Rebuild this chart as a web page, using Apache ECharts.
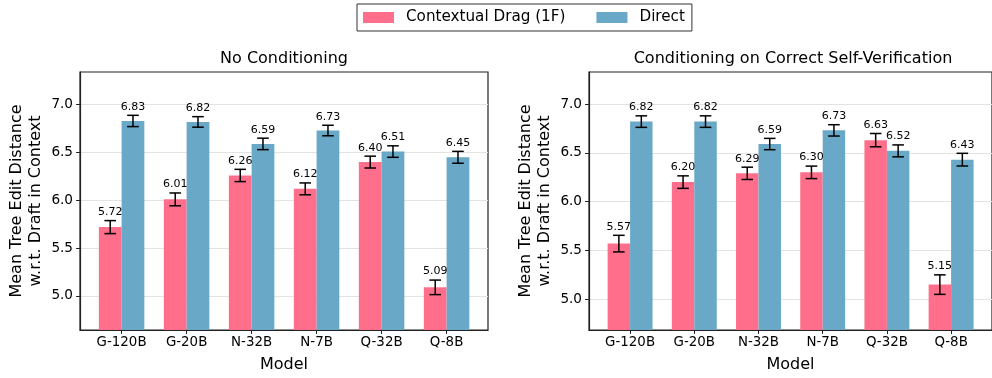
<!DOCTYPE html>
<html>
<head>
<meta charset="utf-8">
<script src="https://cdn.jsdelivr.net/npm/echarts@6/dist/echarts.min.js"></script>
<style>html,body{margin:0;padding:0;background:#fff}#c{width:992px;height:378px}</style>
</head>
<body>
<div id="c"></div>
<script>
const categories = ['G-120B', 'G-20B', 'N-32B', 'N-7B', 'Q-32B', 'Q-8B'];
const seriesNames = ['Contextual Drag (1F)', 'Direct'];
const panelTitles = ['No Conditioning', 'Conditioning on Correct Self-Verification'];

const leftDrag = [5.72, 6.01, 6.26, 6.12, 6.40, 5.09];
const leftDragErr = [0.068, 0.067, 0.064, 0.062, 0.062, 0.076];
const leftDirect = [6.83, 6.82, 6.59, 6.73, 6.51, 6.45];
const leftDirectErr = [0.059, 0.055, 0.060, 0.055, 0.060, 0.062];

const rightDrag = [5.57, 6.20, 6.29, 6.30, 6.63, 5.15];
const rightDragErr = [0.085, 0.064, 0.063, 0.064, 0.068, 0.100];
const rightDirect = [6.82, 6.82, 6.59, 6.73, 6.52, 6.43];
const rightDirectErr = [0.059, 0.059, 0.058, 0.058, 0.061, 0.065];

const yTicks = [5.0, 5.5, 6.0, 6.5, 7.0];
const leftYRange = [4.644, 7.342];
const rightYRange = [4.685, 7.328];
const xRange = [-0.64, 5.637];

const COLORS = ['#FF6F8B', '#69A8C6'];
const FONT = 'DejaVu Sans';
const BAR_W = 0.35;
const CAP = 5.8;

function makeRender(shift, color, base) {
  return function (params, api) {
    const x = api.value(0), v = api.value(1), e = api.value(2);
    const tl = api.coord([x + shift - BAR_W / 2, v]);
    const br = api.coord([x + shift + BAR_W / 2, base]);
    const top = api.coord([x + shift, v + e]);
    const bot = api.coord([x + shift, v - e]);
    const cx = top[0];
    return {
      type: 'group',
      children: [
        { type: 'rect', shape: { x: tl[0], y: tl[1], width: br[0] - tl[0], height: br[1] - tl[1] }, style: { fill: color } },
        { type: 'line', shape: { x1: cx, y1: top[1], x2: cx, y2: bot[1] }, style: { stroke: '#000', lineWidth: 1.5 } },
        { type: 'line', shape: { x1: cx - CAP, y1: top[1], x2: cx + CAP, y2: top[1] }, style: { stroke: '#000', lineWidth: 1.5 } },
        { type: 'line', shape: { x1: cx - CAP, y1: bot[1], x2: cx + CAP, y2: bot[1] }, style: { stroke: '#000', lineWidth: 1.5 } },
        { type: 'text', x: cx, y: top[1] - 3, z2: 10, style: { text: v.toFixed(2), fill: '#000', font: '11px "' + FONT + '"', textAlign: 'center', textVerticalAlign: 'bottom' } }
      ]
    };
  };
}

function toData(vals, errs) { return vals.map((v, i) => [i, v, errs[i]]); }

const grids = [
  { left: 80, top: 72, width: 408, height: 260 },
  { left: 589, top: 72, width: 408, height: 260 }
];

function xAxisFor(gi) {
  return {
    type: 'value', gridIndex: gi, min: xRange[0], max: xRange[1],
    name: 'Model', nameLocation: 'middle', nameGap: 27,
    nameTextStyle: { fontFamily: FONT, fontSize: 16, color: '#000' },
    axisLine: { show: true, onZero: false, lineStyle: { color: '#222', width: 1.2 } },
    axisTick: { show: true, length: 4, customValues: categories.map((c, i) => i), lineStyle: { color: '#222', width: 1 } },
    axisLabel: { customValues: categories.map((c, i) => i), formatter: v => categories[Math.round(v)], fontFamily: FONT, fontSize: 13.4, color: '#000', margin: 6 },
    splitLine: { show: false }
  };
}
function yAxisFor(gi, range) {
  return {
    type: 'value', gridIndex: gi, min: range[0], max: range[1],
    name: 'Mean Tree Edit Distance\nw.r.t. Draft in Context', nameLocation: 'middle', nameGap: 34, nameRotate: 90,
    nameTextStyle: { fontFamily: FONT, fontSize: 16, color: '#000', lineHeight: 19.5 },
    axisLine: { show: true, onZero: false, lineStyle: { color: '#222', width: 1.2 } },
    axisTick: { show: true, length: 4, customValues: yTicks, lineStyle: { color: '#222', width: 1 } },
    axisLabel: { customValues: yTicks, formatter: v => v.toFixed(1), fontFamily: FONT, fontSize: 13.6, color: '#000', margin: 7 },
    splitLine: { show: true, lineStyle: { color: '#e3e3e3', width: 1 } }
  };
}

const panels = [
  { drag: leftDrag, dragErr: leftDragErr, direct: leftDirect, directErr: leftDirectErr, range: leftYRange },
  { drag: rightDrag, dragErr: rightDragErr, direct: rightDirect, directErr: rightDirectErr, range: rightYRange }
];

const series = [];
panels.forEach((p, gi) => {
  series.push({
    type: 'custom', name: seriesNames[0], xAxisIndex: gi, yAxisIndex: gi,
    itemStyle: { color: COLORS[0] }, encode: { x: 0, y: 1 },
    data: toData(p.drag, p.dragErr), renderItem: makeRender(-BAR_W / 2, COLORS[0], p.range[0])
  });
  series.push({
    type: 'custom', name: seriesNames[1], xAxisIndex: gi, yAxisIndex: gi,
    itemStyle: { color: COLORS[1] }, encode: { x: 0, y: 1 },
    data: toData(p.direct, p.directErr), renderItem: makeRender(BAR_W / 2, COLORS[1], p.range[0])
  });
});

const chart = echarts.init(document.getElementById('c'), null, { renderer: 'canvas' });
chart.setOption({
  animation: false,
  backgroundColor: '#fff',
  textStyle: { fontFamily: FONT },
  grid: grids.map(g => Object.assign({ show: true, borderColor: '#222', borderWidth: 1.2, backgroundColor: 'transparent' }, g)),
  xAxis: [xAxisFor(0), xAxisFor(1)],
  yAxis: [yAxisFor(0, leftYRange), yAxisFor(1, rightYRange)],
  legend: {
    left: 357, top: 4, orient: 'horizontal',
    data: seriesNames.map(n => ({ name: n, icon: 'rect' })),
    itemWidth: 31, itemHeight: 11, itemGap: 31,
    padding: [6, 7, 6, 6],
    borderColor: '#333', borderWidth: 1, borderRadius: 0, backgroundColor: '#fff',
    textStyle: { fontFamily: FONT, fontSize: 15.2, color: '#000', padding: [0, 0, 0, 7] },
    selectedMode: false
  },
  graphic: [
    { type: 'text', x: 284, y: 59, style: { text: panelTitles[0], font: '16px "' + FONT + '"', fill: '#000', textAlign: 'center', textVerticalAlign: 'middle' } },
    { type: 'text', x: 793, y: 59, style: { text: panelTitles[1], font: '16px "' + FONT + '"', fill: '#000', textAlign: 'center', textVerticalAlign: 'middle' } }
  ],
  series: series
});
</script>
</body>
</html>
